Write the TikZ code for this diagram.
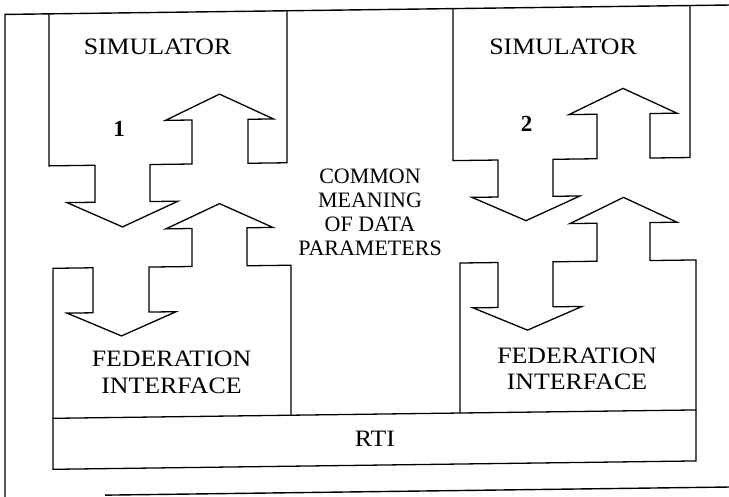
\documentclass[tikz,border=0pt]{standalone}
\usepackage{fontspec}
\setmainfont{Liberation Serif}
\newfontfamily\widefont{Liberation Serif}[FakeStretch=1.1]
\begin{document}
\begin{tikzpicture}[x=1pt,y=-1pt]
\tikzset{
  outline/.style={draw=black,line width=1.3pt,line join=miter},
  frameline/.style={draw=black,line width=1.4pt},
  bigtxt/.style={inner sep=0pt,anchor=base,font=\widefont\fontsize{23.5}{26}\selectfont},
  numtxt/.style={inner sep=0pt,anchor=base,font=\bfseries\fontsize{23}{26}\selectfont},
  midtxt/.style={inner sep=0pt,anchor=base,font=\fontsize{22}{24}\selectfont}
}
\fill[white] (0,0) rectangle (729,497);
\useasboundingbox (0,0) rectangle (729,497);
\begin{scope}[yslant=0.013]
  % outer frame (partial)
  \draw[frameline] (5,510) -- (5,14.5) -- (740,14.5);
  \draw[frameline] (105,496.5) -- (740,496.5);
  % simulator 1
  \draw[outline] (49,14.5) -- (49,166.5) -- (95,166.5) -- (95,203.5) -- (67,203.5)
    -- (122.5,228.5) -- (178,203.5) -- (150,203.5) -- (150,166.5) -- (192,166.5)
    -- (192,122.5) -- (165.5,122.5) -- (219.5,97) -- (273.5,122.5) -- (248,122.5)
    -- (248,166.5) -- (287,166.5) -- (287,14.5);
  % simulator 2
  \draw[outline] (453,14.5) -- (453,166.5) -- (498,166.5) -- (498,203.5) -- (472,203.5)
    -- (526,227.5) -- (580,203.5) -- (553,203.5) -- (553,166.5) -- (597,166.5)
    -- (597,122) -- (569,122) -- (623,96.5) -- (677,122) -- (650,122)
    -- (650,166.5) -- (690,166.5) -- (690,14.5);
  % federation interface 1
  \draw[outline] (53,419) -- (53,269) -- (93,269) -- (93,314) -- (67,314)
    -- (121.5,337.5) -- (176,314) -- (149,314) -- (149,269) -- (192,269)
    -- (192,231) -- (166,231) -- (219.5,206.5) -- (273,231) -- (247,231)
    -- (247,269) -- (291,269) -- (291,419);
  % federation interface 2
  \draw[outline] (460,419) -- (460,269) -- (498,269) -- (498,314) -- (473,314)
    -- (527.5,337) -- (582,314) -- (553,314) -- (553,269) -- (597,269)
    -- (597,231) -- (570,231) -- (623.5,205.5) -- (677,231) -- (650,231)
    -- (650,269) -- (696,269) -- (696,419);
  % RTI
  \draw[outline] (53,419) rectangle (696,470);
  % texts
  \node[bigtxt] (sim1) at (157.5,57) {SIMULATOR};
  \node[bigtxt] (sim2) at (563,62) {SIMULATOR};
  \node[numtxt] (n1) at (119,138) {1};
  \node[numtxt] (n2) at (526.5,138.5) {2};
  \node[midtxt] (cm1) at (370,188) {COMMON};
  \node[midtxt] (cm2) at (370,212) {MEANING};
  \node[midtxt] (cm3) at (370,236.5) {OF DATA};
  \node[midtxt] (cm4) at (370,260) {PARAMETERS};
  \node[bigtxt] (fa1) at (171.5,369) {FEDERATION};
  \node[bigtxt] (fb1) at (171.5,395.5) {INTERFACE};
  \node[bigtxt] (fa2) at (577,371) {FEDERATION};
  \node[bigtxt] (fb2) at (577,397.5) {INTERFACE};
  \node[bigtxt] (rti) at (375,451.5) {RTI};
\end{scope}
\end{tikzpicture}
\end{document}
